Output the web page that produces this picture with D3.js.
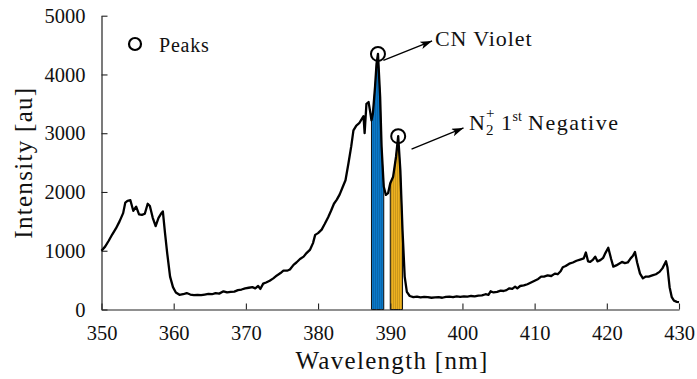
<!DOCTYPE html>
<html>
<head>
<script src="https://cdn.jsdelivr.net/npm/d3@7"></script>
</head>
<body style="margin:0">
<script>
// spectrum
const wavelength = [
    350.0, 350.5, 351.0, 351.5, 352.0, 352.5, 353.0, 353.3, 353.6, 354.0,
    354.4, 354.8, 355.2, 355.6, 356.0, 356.4, 356.7, 357.1, 357.5, 357.9,
    358.3, 358.5, 358.8, 359.1, 359.5, 359.9, 360.3, 360.8, 361.3, 361.8,
    362.3, 362.8, 363.3, 363.8, 364.3, 364.8, 365.3, 365.8, 366.3, 366.9,
    367.4, 367.9, 368.4, 368.9, 369.4, 369.9, 370.4, 370.9, 371.3, 371.7,
    372.0, 372.4, 372.8, 373.3, 373.8, 374.3, 374.8, 375.2, 375.7, 376.1,
    376.6, 377.0, 377.5, 378.0, 378.4, 378.9, 379.3, 379.6, 380.0, 380.5,
    380.9, 381.4, 381.8, 382.2, 382.6, 383.0, 383.4, 383.8, 384.2, 384.6,
    384.9, 385.3, 385.7, 386.0, 386.3, 386.45, 386.7, 387.0, 387.2, 387.4,
    387.6, 387.9, 388.1, 388.3, 388.6, 388.8, 389.1, 389.4, 389.7, 390.0,
    390.4, 390.8, 391.1, 391.4, 391.7, 392.0, 392.3, 392.7, 393.2, 393.7,
    394.2, 394.7, 395.2, 395.7, 396.2, 396.7, 397.2, 397.7, 398.2, 398.7,
    399.2, 399.7, 400.2, 400.7, 401.2, 401.7, 402.2, 402.7, 403.2, 403.6,
    403.9, 404.3, 404.8, 405.3, 405.7, 406.1, 406.5, 406.9, 407.3, 407.6,
    408.0, 408.5, 409.0, 409.5, 410.0, 410.5, 410.9, 411.3, 411.8, 412.3,
    412.8, 413.2, 413.6, 413.9, 414.3, 414.8, 415.3, 415.8, 416.3, 416.8,
    417.1, 417.4, 417.7, 418.1, 418.4, 418.7, 419.1, 419.5, 419.8, 420.2,
    420.6, 420.9, 421.3, 421.7, 422.1, 422.5, 422.9, 423.3, 423.6, 423.9,
    424.2, 424.6, 425.0, 425.4, 425.8, 426.3, 426.8, 427.3, 427.7, 428.2,
    428.4, 428.7, 429.0, 429.3, 429.7, 430.0
]
const intensity = [
    1000, 1070, 1170, 1280, 1380, 1500, 1640, 1820, 1850, 1860,
    1680, 1750, 1620, 1610, 1630, 1800, 1760, 1560, 1420, 1560,
    1640, 1670, 1300, 960, 560, 380, 290, 250, 260, 280,
    255, 245, 250, 245, 255, 265, 260, 280, 270, 310,
    290, 300, 305, 330, 340, 360, 370, 380, 360, 400,
    350, 440, 460, 490, 530, 580, 620, 660, 660, 680,
    760, 800, 860, 900, 960, 1020, 1130, 1270, 1300, 1360,
    1450, 1570, 1680, 1800, 1870, 1960, 2080, 2200, 2480, 2780,
    3050, 3130, 3170, 3230, 3290, 3000, 3500, 3530, 3380, 3220,
    3340, 3800, 4180, 4350, 3620, 2770, 2090, 1950, 1980, 2150,
    2260, 2600, 2950, 2370, 1350, 560, 300, 230, 210, 220,
    205, 215, 210, 200, 205, 210, 200, 215, 220, 210,
    225, 215, 225, 220, 230, 225, 235, 240, 260, 250,
    310, 290, 300, 320, 315, 330, 360, 350, 390, 360,
    400, 410, 430, 460, 490, 520, 560, 560, 580, 570,
    610, 600, 650, 720, 740, 780, 800, 830, 850, 870,
    970, 820, 810, 850, 900, 820, 840, 880, 960, 1050,
    860, 730, 750, 780, 810, 790, 800, 870, 910, 980,
    800, 610, 530, 560, 560, 580, 600, 640, 700, 820,
    720, 380, 210, 150, 130, 125
]

const xTicks = [350, 360, 370, 380, 390, 400, 410, 420, 430]
const yTicks = [0, 1000, 2000, 3000, 4000, 5000]

// detected peaks
const peakWavelength = [388.3, 391.1]
const peakIntensity = [4350, 2950]

// integrated bands: CN violet, N2+ first negative
const bandNames = ["cn", "n2"]
const bandStart = [387.4, 390.0]
const bandEnd = [389.1, 391.7]
const bandColors = ["#0B78C8", "#EDB120"]

const width = 697, height = 379
const margin = {top: 15.7, right: 18, bottom: 69.5, left: 101.5}

const svg = d3.select("body").append("svg")
    .attr("width", width)
    .attr("height", height)

const x = d3.scaleLinear().domain([350, 430]).range([margin.left, width - margin.right])
const y = d3.scaleLinear().domain([0, 5000]).range([height - margin.bottom, margin.top])

const spectrum = wavelength.map((w, i) => [w, intensity[i]])

// every text goes through here so it gets the serif face
function label(x, y, size, str) {
    return svg.append("text")
        .attr("x", x)
        .attr("y", y)
        .attr("font-family", '"Liberation Serif"')
        .attr("font-size", size)
        .attr("fill", "#111")
        .text(str)
}

// stripe patterns for the filled bands
const defs = svg.append("defs")
bandNames.forEach((name, i) => {
    let p = defs.append("pattern")
        .attr("id", `stripe-${name}`)
        .attr("patternUnits", "userSpaceOnUse")
        .attr("width", 2)
        .attr("height", 10)
    p.append("rect").attr("width", 2).attr("height", 10).attr("fill", bandColors[i])
    p.append("rect").attr("x", 1.3).attr("width", 0.7).attr("height", 10)
        .attr("fill", "rgba(0,0,0,0.2)")
})

defs.append("marker")
    .attr("id", "arrow")
    .attr("markerUnits", "userSpaceOnUse")
    .attr("markerWidth", 14)
    .attr("markerHeight", 10)
    .attr("refX", 12)
    .attr("refY", 4)
    .attr("orient", "auto")
    .append("path")
    .attr("d", "M0,0 L12,4 L0,8 L3,4 Z")
    .attr("fill", "#000")

// band fills under the curve
const area = d3.area().x(d => x(d[0])).y0(y(0)).y1(d => y(d[1]))
bandNames.forEach((name, i) => {
    let pts = spectrum.filter(d => d[0] >= bandStart[i] && d[0] <= bandEnd[i])
    svg.append("path")
        .datum(pts)
        .attr("d", area)
        .attr("fill", `url(#stripe-${name})`)
        .attr("stroke", "#111")
        .attr("stroke-width", 1)
})

// axes, ticks pointing inward
const xAxis = svg.append("g")
    .attr("transform", `translate(0,${y(0)})`)
    .call(d3.axisBottom(x).tickValues(xTicks).tickFormat(d3.format("d"))
        .tickSize(-6).tickSizeOuter(0).tickPadding(16))
const yAxis = svg.append("g")
    .attr("transform", `translate(${x(350)},0)`)
    .call(d3.axisLeft(y).tickValues(yTicks).tickFormat(d3.format("d"))
        .tickSize(-6).tickSizeOuter(0).tickPadding(16))

;[xAxis, yAxis].forEach(g => {
    g.attr("font-family", '"Liberation Serif"').attr("font-size", 20.5)
    g.select(".domain").attr("stroke", "#222").attr("stroke-width", 1.2)
    g.selectAll(".tick line").attr("stroke", "#222").attr("stroke-width", 1.1)
    g.selectAll(".tick text").attr("fill", "#111")
})

// spectrum line
svg.append("path")
    .datum(spectrum)
    .attr("fill", "none")
    .attr("stroke", "#000")
    .attr("stroke-width", 2.3)
    .attr("stroke-linejoin", "round")
    .attr("d", d3.line().x(d => x(d[0])).y(d => y(d[1])))

// peak markers
svg.append("g").selectAll("circle")
    .data(peakWavelength)
    .join("circle")
    .attr("cx", (d, i) => x(d))
    .attr("cy", (d, i) => y(peakIntensity[i]))
    .attr("r", 7)
    .attr("fill", "none")
    .attr("stroke", "#000")
    .attr("stroke-width", 2)

// axis labels
label(392, 369, 25, "Wavelength [nm]")
    .attr("text-anchor", "middle")
    .attr("letter-spacing", 1.3)

label(0, 0, 25, "Intensity [au]")
    .attr("transform", `translate(32,${(margin.top + y(0)) / 2}) rotate(-90)`)
    .attr("text-anchor", "middle")
    .attr("letter-spacing", 1.3)

// legend
svg.append("circle")
    .attr("cx", 135).attr("cy", 44).attr("r", 6)
    .attr("fill", "none").attr("stroke", "#000").attr("stroke-width", 2.2)
label(159, 52, 20, "Peaks").attr("letter-spacing", 0.8)

// annotations
svg.append("line")
    .attr("x1", x(389.05)).attr("y1", y(4240))
    .attr("x2", x(395.8)).attr("y2", y(4570))
    .attr("stroke", "#000").attr("stroke-width", 1.3)
    .attr("marker-end", "url(#arrow)")
label(435, 46, 22, "CN Violet").attr("letter-spacing", 0.9)

svg.append("line")
    .attr("x1", x(392.95)).attr("y1", y(2730))
    .attr("x2", x(400.15)).attr("y2", y(3090))
    .attr("stroke", "#000").attr("stroke-width", 1.3)
    .attr("marker-end", "url(#arrow)")

// N2+ 1st Negative, pieces placed by hand so sub and superscript stack
let lx = 469, ly = 130
label(lx, ly, 22, "N")
label(lx + 17, ly - 12, 15, "+")
label(lx + 17, ly + 5, 15, "2")
label(lx + 32, ly, 22, "1")
label(lx + 43.5, ly - 9, 14, "st")
label(lx + 59, ly, 22, "Negative").attr("letter-spacing", 1.5)
</script>
</body>
</html>
